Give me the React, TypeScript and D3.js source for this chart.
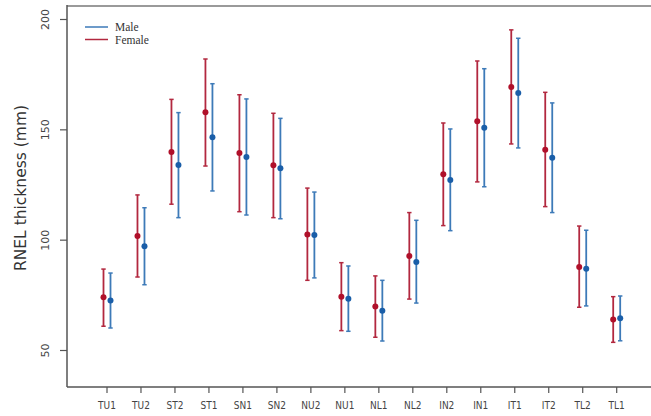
import React, { useEffect, useRef } from 'react';
import * as d3 from 'd3';

// sites along the x axis
const sites = ['TU1', 'TU2', 'ST2', 'ST1', 'SN1', 'SN2', 'NU2', 'NU1', 'NL1', 'NL2', 'IN2', 'IN1', 'IT1', 'IT2', 'TL2', 'TL1'];

// female: mean, lower, upper
const femaleMean = [74.1, 101.9, 140.0, 158.0, 139.5, 134.0, 102.6, 74.4, 69.9, 92.8, 129.9, 153.9, 169.4, 141.0, 87.8, 64.0];
const femaleLow = [61.0, 83.3, 116.3, 133.6, 112.9, 110.2, 81.8, 59.0, 56.0, 73.3, 106.6, 126.4, 143.6, 115.2, 69.6, 53.7];
const femaleHigh = [86.9, 120.5, 163.8, 182.1, 165.9, 157.5, 123.6, 89.8, 83.8, 112.5, 153.1, 181.2, 195.3, 167.0, 106.4, 74.4];

// male: mean, lower, upper
const maleMean = [72.7, 97.2, 134.1, 146.6, 137.7, 132.6, 102.3, 73.5, 68.0, 90.1, 127.3, 151.0, 166.7, 137.4, 87.1, 64.6];
const maleLow = [60.2, 79.8, 110.2, 122.3, 111.4, 109.7, 82.9, 58.7, 54.3, 71.5, 104.3, 124.2, 141.8, 112.5, 70.2, 54.4];
const maleHigh = [85.1, 114.7, 157.8, 170.9, 164.0, 155.2, 121.8, 88.3, 81.8, 109.0, 150.4, 177.7, 191.5, 162.2, 104.5, 74.7];

const yTicks = [50, 100, 150, 200];

const App = () => {
    const ref = useRef<SVGSVGElement>(null);

    useEffect(() => {
        const width = 651;
        const height = 416;
        const svg = d3.select(ref.current);
        svg.selectAll('*').remove();

        const left = 67;
        const top = 6;
        const bottom = 387;

        const x = d3.scalePoint().domain(sites).range([107, 616.7]);
        const y = d3.scaleLinear().domain([50, 200]).range([350.5, 19.5]);

        // frame: top line, left axis, bottom axis
        svg.append('line')
            .attr('x1', left).attr('x2', width).attr('y1', top).attr('y2', top)
            .attr('stroke', '#9a9a9a').attr('stroke-width', 2);
        svg.append('line')
            .attr('x1', left).attr('x2', left).attr('y1', top - 1).attr('y2', bottom)
            .attr('stroke', '#555').attr('stroke-width', 1.5);
        svg.append('line')
            .attr('x1', left).attr('x2', width).attr('y1', bottom).attr('y2', bottom)
            .attr('stroke', '#555').attr('stroke-width', 1.5);

        // y ticks
        const yt = svg.append('g');
        yTicks.forEach((t) => {
            yt.append('line')
                .attr('x1', left - 7).attr('x2', left).attr('y1', y(t)).attr('y2', y(t))
                .attr('stroke', '#555').attr('stroke-width', 1.2);
            yt.append('text')
                .attr('transform', `translate(49,${y(t)}) rotate(-90)`)
                .attr('text-anchor', 'middle')
                .attr('font-family', 'DejaVu Sans, sans-serif')
                .attr('font-size', 11)
                .attr('fill', '#444')
                .text(t);
        });

        // y label
        svg.append('text')
            .attr('transform', `translate(26,188) rotate(-90)`)
            .attr('text-anchor', 'middle')
            .attr('font-family', 'DejaVu Sans, sans-serif')
            .attr('font-size', 15.5)
            .attr('fill', '#333')
            .text('RNEL thickness (mm)');

        // x ticks
        const xt = svg.append('g');
        sites.forEach((s) => {
            xt.append('line')
                .attr('x1', x(s)).attr('x2', x(s)).attr('y1', bottom).attr('y2', bottom + 6)
                .attr('stroke', '#555').attr('stroke-width', 1.2);
            xt.append('text')
                .attr('x', x(s)).attr('y', 409)
                .attr('text-anchor', 'middle')
                .attr('font-family', 'DejaVu Sans Condensed, DejaVu Sans, sans-serif')
                .attr('font-size', 10)
                .attr('fill', '#444')
                .text(s);
        });

        const drawSeries = (mean, low, high, dx, lineColor, dotColor) => {
            const g = svg.append('g');
            sites.forEach((s, i) => {
                const cx = x(s) + dx;
                g.append('line')
                    .attr('x1', cx).attr('x2', cx).attr('y1', y(low[i])).attr('y2', y(high[i]))
                    .attr('stroke', lineColor).attr('stroke-width', 1.8);
                [low[i], high[i]].forEach((v) => {
                    g.append('line')
                        .attr('x1', cx - 2.2).attr('x2', cx + 2.2).attr('y1', y(v)).attr('y2', y(v))
                        .attr('stroke', lineColor).attr('stroke-width', 1.5);
                });
                g.append('circle')
                    .attr('cx', cx).attr('cy', y(mean[i])).attr('r', 3)
                    .attr('fill', dotColor);
            });
        };

        drawSeries(femaleMean, femaleLow, femaleHigh, -3.5, '#b2283f', '#b0102a');
        drawSeries(maleMean, maleLow, maleHigh, 3.5, '#3d7ab8', '#1a5ea8');

        // legend
        const legend = [
            { label: 'Male', color: '#3d7ab8' },
            { label: 'Female', color: '#b2283f' },
        ];
        legend.forEach((d, i) => {
            const ly = 27 + i * 12.5;
            svg.append('line')
                .attr('x1', 85).attr('x2', 108).attr('y1', ly).attr('y2', ly)
                .attr('stroke', d.color).attr('stroke-width', 1.5);
            svg.append('text')
                .attr('x', 115).attr('y', ly + 4)
                .attr('font-family', 'Liberation Serif, serif')
                .attr('font-size', 11.5)
                .attr('fill', '#333')
                .text(d.label);
        });
    }, []);

    return (
        <svg ref={ref} width={651} height={416}
            style={{ position: 'absolute', left: 0, top: 0, background: '#fff' }} />
    );
};

export default App;
